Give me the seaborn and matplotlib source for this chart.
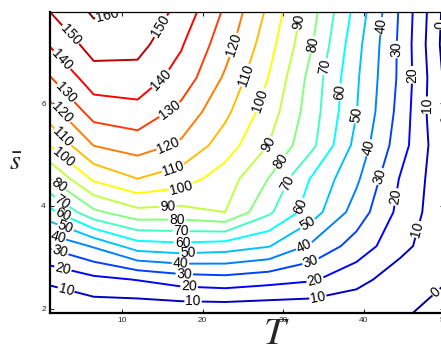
import numpy as np
import matplotlib
matplotlib.use("Agg")
import matplotlib.pyplot as plt
from matplotlib.colors import LinearSegmentedColormap
import seaborn as sns

# grid (T across, s up)
t_vals = [1.0, 6.44, 11.89, 17.33, 22.78, 28.22, 33.67, 39.11, 44.56, 50.0]
s_vals = [1.92, 2.57, 3.22, 3.88, 4.53, 5.18, 5.83, 6.49, 7.14, 7.77]

# one row per s value, bottom row first
row_0 = [3, 3, 2, 2, 2, 1.5, 1.5, 1, 2, -5]
row_1 = [11.5, 17.4, 20.4, 24.7, 26.3, 23.7, 21, 13.7, 4, 1]
row_2 = [31.7, 41, 55, 56.9, 55, 50.5, 37.8, 25.7, 13.3, 2]
row_3 = [57, 77.8, 87.1, 86.5, 90, 71.8, 54.2, 35.6, 17.1, 3]
row_4 = [80, 101.9, 110, 105, 95, 79.7, 58.5, 41.8, 19.3, 3]
row_5 = [100.3, 120.3, 124.5, 118.3, 105.1, 89.7, 71.9, 46.8, 24.5, 2]
row_6 = [115.6, 134.3, 136.8, 126.9, 112.4, 95, 74.3, 50.3, 26.5, -1]
row_7 = [129.4, 145.5, 145.7, 136.1, 118.5, 99.6, 75.8, 51.4, 27.9, -1]
row_8 = [140.8, 154.4, 153.6, 140.9, 124.2, 103.9, 80.2, 53.3, 28, -3]
row_9 = [150, 161.4, 159.1, 146.5, 128.4, 107.8, 83, 56.5, 28.7, -2]

levels = [0, 10, 20, 30, 40, 50, 60, 70, 80, 90, 100, 110, 120, 130, 140, 150, 160]
x_ticks = [10, 20, 30, 40, 50]
y_ticks = [2, 4, 6]

z = np.array([row_0, row_1, row_2, row_3, row_4, row_5,
              row_6, row_7, row_8, row_9])

# roughly where the labels sit on each line (T, s)
label_spots = {
    160: [(8.2, 7.67)],
    150: [(3.5, 7.32), (15.1, 7.46)],
    140: [(2.5, 6.84), (14.9, 6.45)],
    130: [(2.9, 6.19), (16.2, 5.81)],
    120: [(2.2, 5.77), (15.8, 5.15), (23.8, 7.13)],
    110: [(2.6, 5.34), (16.5, 4.64), (25.5, 6.53)],
    100: [(2.9, 4.99), (17.4, 4.31), (27.4, 6.04)],
    90: [(15.7, 3.98), (31.7, 7.58), (28.4, 5.18)],
    80: [(2.2, 4.43), (16.8, 3.67), (33.7, 7.13), (30.0, 4.84)],
    70: [(2.7, 4.12), (17.3, 3.48), (35.5, 6.70), (31.0, 4.41)],
    60: [(2.6, 3.83), (17.5, 3.22), (37.1, 6.21), (32.1, 4.0)],
    50: [(2.9, 3.57), (18.2, 3.03), (39.2, 5.77), (33.2, 3.61)],
    40: [(1.9, 3.36), (17.2, 2.85), (42.4, 7.50), (40.7, 5.13), (32.8, 3.14)],
    30: [(2.2, 3.09), (17.7, 2.66), (44.2, 7.04), (42.3, 4.56), (33.5, 2.87)],
    20: [(2.6, 2.78), (18.3, 2.43), (46.0, 6.55), (44.2, 4.17), (34.0, 2.54)],
    10: [(3.1, 2.43), (18.8, 2.17), (47.8, 5.96), (46.6, 3.55), (34.3, 2.23)],
    0: [(49.5, 7.52), (49.3, 5.67), (49.1, 2.31)],
}

# matlab-style jet
mjet = LinearSegmentedColormap.from_list("mjet", [
    (0.0, (0, 0, 0.5)), (0.125, (0, 0, 1)), (0.375, (0, 1, 1)),
    (0.625, (1, 1, 0)), (0.875, (1, 0, 0)), (1.0, (0.5, 0, 0))])

sns.set_style("ticks")
plt.rcParams["font.family"] = ["Liberation Sans", "DejaVu Sans"]
plt.rcParams["mathtext.fontset"] = "stix"

fig = plt.figure(figsize=(4.41, 3.45), dpi=100)
ax = fig.add_axes([50 / 441, 32 / 345, 394 / 441, 301 / 345])
ax.set_xlim(1, 50)
ax.set_ylim(1.92, 7.77)

cs = ax.contour(t_vals, s_vals, z, levels=levels, cmap=mjet,
                vmin=0, vmax=160, linewidths=1.4)


def snap(level, pt):
    # move a spot onto the drawn line of its own level (in pixel space)
    p = ax.transData.transform(pt)
    best, best_d = pt, np.inf
    for seg in cs.allsegs[levels.index(level)]:
        if len(seg) < 2:
            continue
        q = ax.transData.transform(seg)
        a, b = q[:-1], q[1:]
        ab = b - a
        t = np.clip(((p - a) * ab).sum(1) / np.maximum((ab * ab).sum(1), 1e-9), 0, 1)
        proj = a + t[:, None] * ab
        d = np.hypot(*(proj - p).T)
        i = d.argmin()
        if d[i] < best_d:
            best_d = d[i]
            best = ax.transData.inverted().transform(proj[i])
    return tuple(best)


spots = []
for lev, pts in label_spots.items():
    if cs.allsegs[levels.index(lev)]:
        spots += [snap(lev, p) for p in pts]

ax.clabel(cs, levels, manual=spots, fontsize=10, inline=True,
          inline_spacing=1, fmt="%d", colors="k")

ax.set_xticks(x_ticks)
ax.set_yticks(y_ticks)
ax.tick_params(direction="in", length=3, labelsize=6, top=True, right=True, pad=3)
for side in ["left", "bottom"]:
    ax.spines[side].set_linewidth(1.6)
for side in ["top", "right"]:
    ax.spines[side].set_linewidth(0.9)
for sp in ax.spines.values():
    sp.set_color("black")

ax.set_xlabel("$T$", fontsize=28, va="top")
ax.xaxis.set_label_coords(0.574, -0.01)
ax.set_ylabel(r"$\bar{s}$", fontsize=20, rotation=0, va="center", ha="center")
ax.yaxis.set_label_coords(-0.086, 0.5)

fig.savefig("out.png", dpi=100)
